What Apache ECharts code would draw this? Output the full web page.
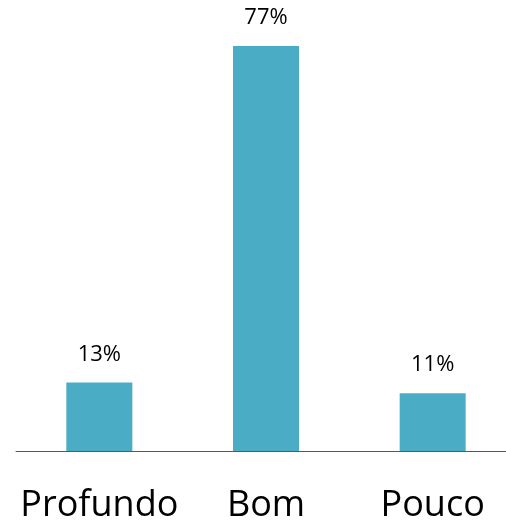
<!DOCTYPE html>
<html lang="pt">
<head>
    <meta charset="UTF-8">
    <title>Profundo / Bom / Pouco</title>
    <script src="https://cdn.jsdelivr.net/npm/echarts@6/dist/echarts.min.js"></script>
    <style>
        html, body { margin: 0; padding: 0; background: #fff; }
    </style>
</head>
<body>
<div id="box" style="width: 506px;height: 523px;"></div>
<script>
    var categories = ['Profundo', 'Bom', 'Pouco'];
    var values = [13, 77, 11];

    var myChart = echarts.init(document.getElementById('box'));
    var option = {
        animation: false,
        grid: {
            left: 16,
            right: -10,
            top: 46,
            bottom: 72,
            outerBoundsMode: 'none'
        },
        xAxis: {
            type: 'category',
            data: categories,
            axisTick: { show: false },
            axisLine: {
                lineStyle: { color: '#595959', width: 1 }
            },
            axisLabel: {
                interval: 0,
                hideOverlap: false,
                color: '#000',
                fontFamily: 'Open Sans',
                fontSize: 36,
                margin: 37
            }
        },
        yAxis: {
            type: 'value',
            min: 0,
            max: 77,
            show: false,
            splitLine: { show: false }
        },
        series: [
            {
                type: 'bar',
                data: values,
                barWidth: 66,
                itemStyle: { color: '#4BACC6' },
                label: {
                    show: true,
                    position: 'top',
                    distance: 17,
                    formatter: '{c}%',
                    color: '#000',
                    fontFamily: 'Open Sans',
                    fontSize: 22
                }
            }
        ]
    };
    myChart.setOption(option);
</script>
</body>
</html>
